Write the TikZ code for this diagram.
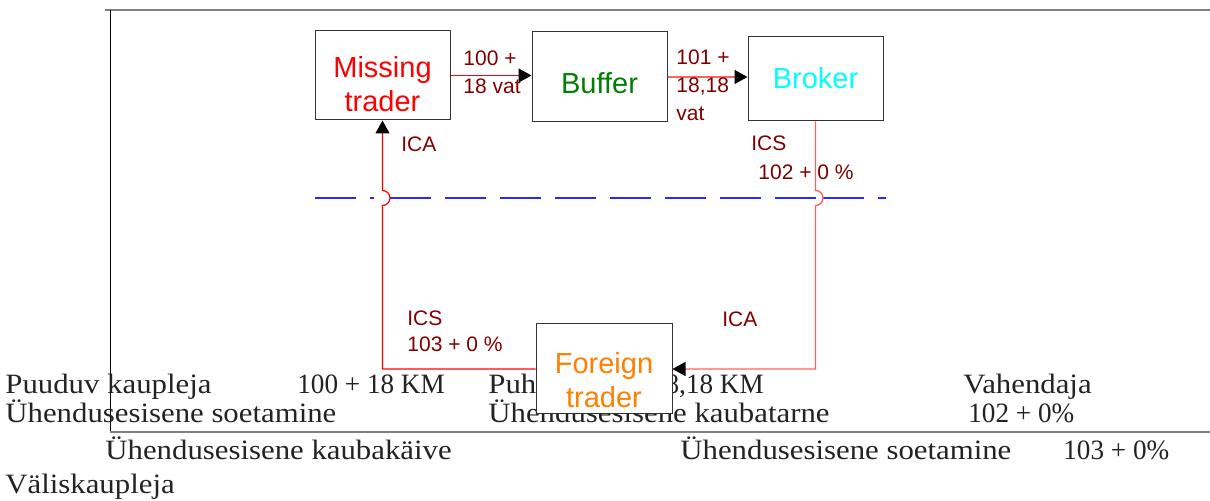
\documentclass[tikz,border=0pt]{standalone}
\usepackage{fontspec}
\setmainfont{Liberation Serif}[FakeStretch=1.1]
\newfontfamily\labelfont{Liberation Sans}
\newfontfamily\numfont{Liberation Serif}[FakeStretch=0.97]
\usetikzlibrary{arrows.meta}
\definecolor{labelred}{RGB}{128,0,0}
\definecolor{lightred}{RGB}{255,96,96}
\definecolor{buffergreen}{RGB}{0,128,0}
\definecolor{brokercyan}{RGB}{0,255,255}
\definecolor{foreignorange}{RGB}{255,128,0}
\definecolor{dashblue}{RGB}{40,40,255}
\definecolor{notegray}{RGB}{35,35,35}

\begin{document}
\begin{tikzpicture}[x=0.5pt,y=-0.5pt,
  tradebox/.style={draw=black!80, fill=white, line width=0.5pt, minimum width=67.5pt, inner sep=0pt},
  boxtext/.style={font=\labelfont\fontsize{14.5}{17}\selectfont, align=center, inner sep=0pt},
  flowlabel/.style={font=\labelfont\fontsize{10.5}{14}\selectfont, text=labelred, align=left, anchor=west, inner sep=0pt},
  note/.style={font=\fontsize{14}{17}\selectfont, text=notegray, anchor=base west, inner sep=0pt},
  tip/.style={-{Triangle[length=6.5pt,width=7pt,color=black]}},
  redline/.style={red, line width=0.6pt},
  pinkline/.style={lightred, line width=0.7pt},
  divider/.style={dashblue, line width=0.6pt, dash pattern=on 20.5pt off 7pt}]

\useasboundingbox (0,0) rectangle (1210,501);

% frame
\draw[gray, line width=1pt] (105,10) -- (1210,10);
\draw[black, line width=0.5pt] (110,10) -- (110,432);
\draw[gray, line width=0.75pt] (110,432) -- (1210,432);

% text under the scheme
\node[note] (n-puuduv) at (5,394) {Puuduv kaupleja};
\node[note] (n-sum1) at (297,394) {\numfont 100 + 18 KM};
\node[note] (n-puhver) at (488,394) {Puhver{\numfont{} 101 + 18,18 KM}};
\node[note] (n-vahendaja) at (963,394) {Vahendaja};
\node[note] (n-soet1) at (5,423) {Ühendusesisene soetamine};
\node[note] (n-tarne) at (488,423) {Ühendusesisene kaubatarne};
\node[note] (n-sum2) at (968,423) {\numfont 102 + 0\%};
\node[note] (n-kaive) at (105,460) {Ühendusesisene kaubakäive};
\node[note] (n-soet2) at (680,460) {Ühendusesisene soetamine};
\node[note] (n-sum3) at (1063,460) {\numfont 103 + 0\%};
\node[note] (n-valis) at (5,494) {Väliskaupleja};

% traders
\node[tradebox, minimum height=44.5pt] (missing) at (382.5,75.5) {};
\node[tradebox, minimum height=45pt] (buffer) at (599.5,77) {};
\node[tradebox, minimum height=42pt] (broker) at (815.5,79) {};
\node[tradebox, minimum width=68pt, minimum height=45pt] (foreign) at (604,369) {};

\node[boxtext, text=red] (missing-txt) at (382.5,84) {Missing\\trader};
\node[boxtext, text=buffergreen] (buffer-txt) at (599.5,83) {Buffer};
\node[boxtext, text=brokercyan] (broker-txt) at (815.5,78) {Broker};
\node[boxtext, text=foreignorange] (foreign-txt) at (604,380) {Foreign\\trader};

% border line and crossings
\coordinate (dashL) at (315,198);
\coordinate (dashR) at (886,198);
\coordinate (jumpL) at (missing.south |- dashL);
\coordinate (jumpR) at (broker.south |- dashL);

\draw[divider] (dashL) -- ([xshift=-4.25pt]jumpL);
\draw[divider] ([xshift=3.75pt]jumpL) -- (jumpR);
\draw[divider] ([xshift=3.75pt]jumpR) -- (dashR);

% flows
\draw[redline, tip] (missing.east) -- (buffer.west |- missing.east);
\draw[pinkline, tip] (buffer.east) -- (broker.west |- buffer.east);
\draw[pinkline, tip] (broker.south) -- ([yshift=3.75pt]jumpR)
  arc[start angle=90, end angle=-90, radius=3.75pt] |- (foreign.east);
\draw[redline, tip] (foreign.west) -| ([yshift=-3.75pt]jumpL)
  arc[start angle=-90, end angle=90, radius=3.75pt] -- (missing.south);

\node[flowlabel] (sale1) at (463,72.5) {100 +\\18 vat};
\node[flowlabel] (sale2) at (676,85.5) {101 +\\18,18\\vat};
\node[flowlabel] (ica-up) at (401,144) {ICA};
\node[flowlabel] (ics-up) at (751,143) {ICS};
\node[flowlabel] (ics-up-sum) at (758,172) {102 + 0 \%};
\node[flowlabel, font=\labelfont\fontsize{10.5}{13}\selectfont] (ics-low) at (407,331) {ICS\\103 + 0 \%};
\node[flowlabel] (ica-low) at (722,319) {ICA};
\end{tikzpicture}
\end{document}
